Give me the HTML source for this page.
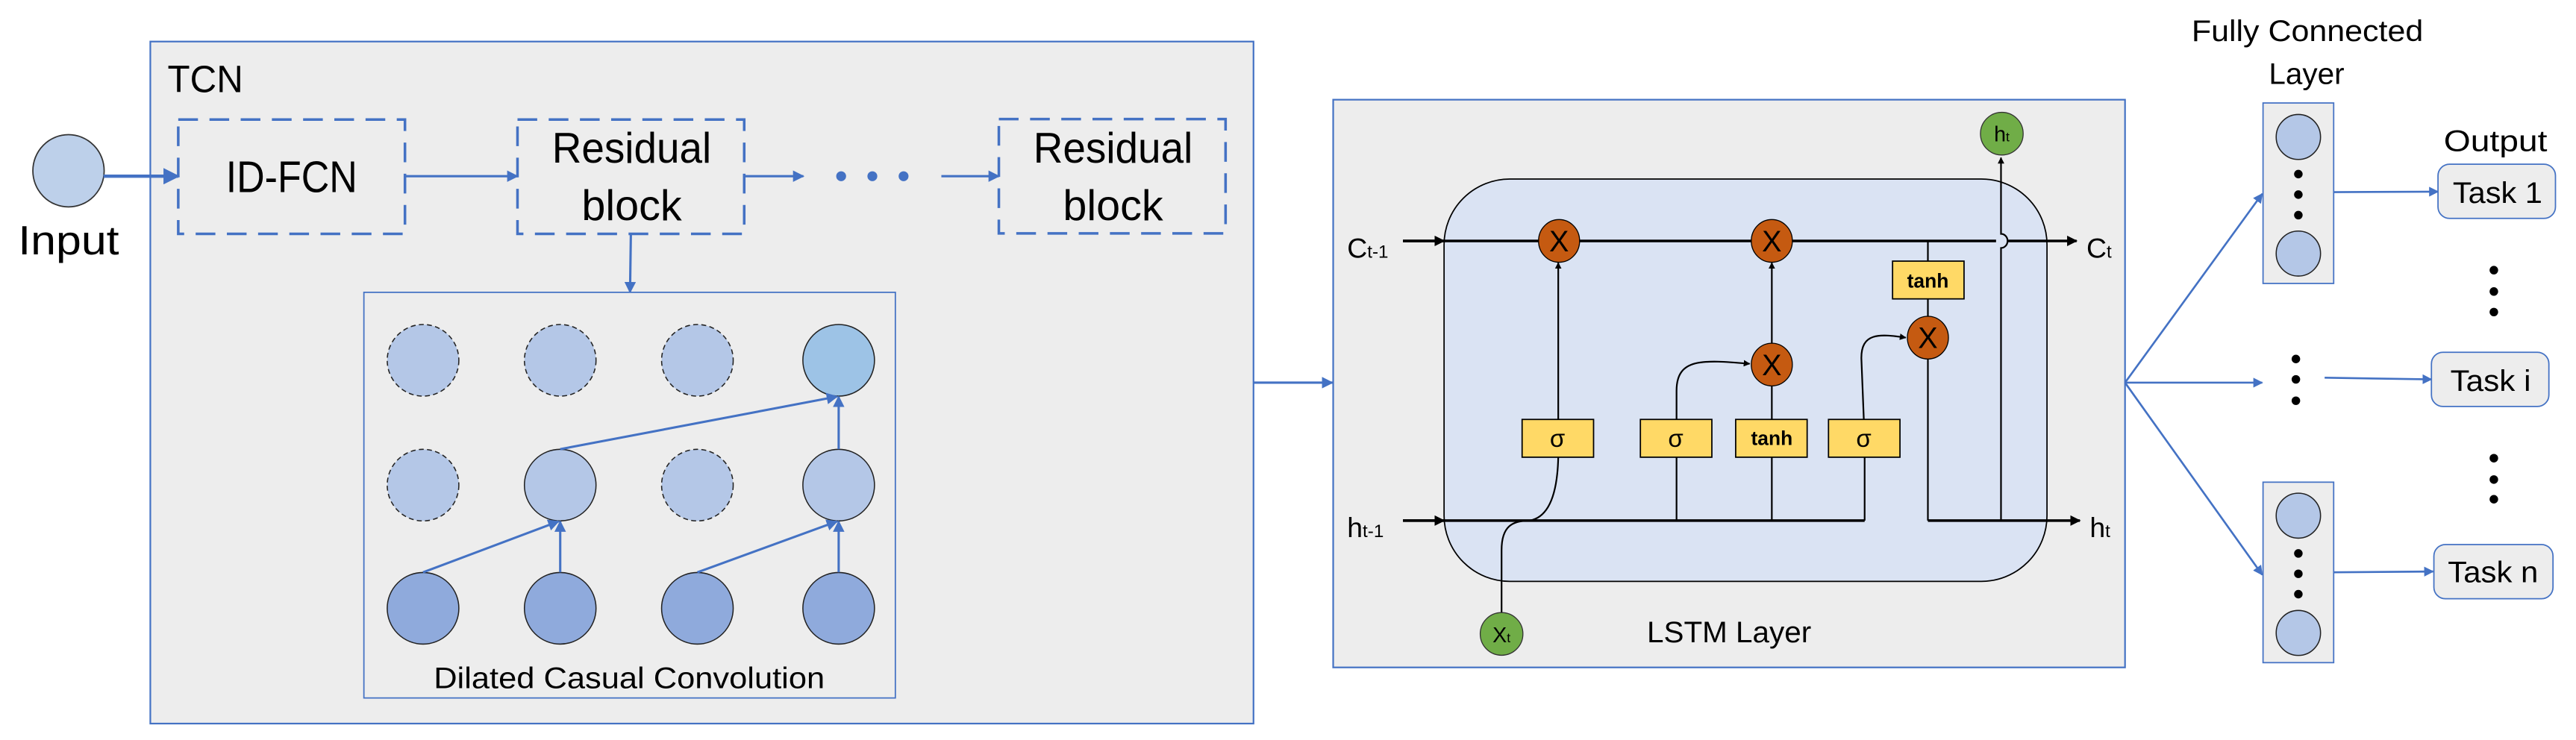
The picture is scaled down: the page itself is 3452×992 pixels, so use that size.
<!DOCTYPE html>
<html><head><meta charset="utf-8"><style>
html,body{margin:0;padding:0;background:#fff;overflow:hidden;}
svg{display:block;}
text{font-family:"Liberation Sans",sans-serif;fill:#000;}
</style></head><body>
<svg width="3452" height="992" viewBox="0 0 1568 450.6" preserveAspectRatio="none" xmlns="http://www.w3.org/2000/svg">
<defs>
<marker id="ab" viewBox="0 0 10 10" refX="9" refY="5" markerWidth="5" markerHeight="5" orient="auto"><path d="M0,0L10,5L0,10z" fill="#4472c4"/></marker>
<marker id="ak" viewBox="0 0 10 10" refX="9" refY="5" markerWidth="4" markerHeight="4" orient="auto"><path d="M0,0L10,5L0,10z" fill="#000"/></marker>
</defs>
<!-- TCN -->
<rect x="91.5" y="25.3" width="671.5" height="415.3" fill="#ededed" stroke="#4472c4" stroke-width="1"/>
<text x="102" y="56" font-size="23" textLength="46" lengthAdjust="spacingAndGlyphs">TCN</text>
<ellipse cx="41.7" cy="104" rx="21.7" ry="22" fill="#bdd0ea" stroke="#333" stroke-width="0.8"/>
<text x="11" y="155" font-size="25" textLength="61.5" lengthAdjust="spacingAndGlyphs">Input</text>
<g stroke="#4472c4" stroke-width="1.6" fill="none" stroke-dasharray="12,7">
<rect x="108.5" y="72.8" width="138" height="69.6"/>
<rect x="315" y="72.8" width="138" height="69.6"/>
<rect x="608" y="72.5" width="138" height="69.6"/>
</g>
<g stroke="#4472c4" stroke-width="1.4" fill="none" marker-end="url(#ab)">
<line x1="63" y1="107.3" x2="108.5" y2="107.3" stroke-width="2"/>
<line x1="246.5" y1="107.3" x2="315" y2="107.3"/>
<line x1="453" y1="107.3" x2="489" y2="107.3"/>
<line x1="573" y1="107.3" x2="608" y2="107.3"/>
<line x1="384" y1="142.4" x2="383.5" y2="178"/>
</g>
<g fill="#4472c4"><circle cx="512" cy="107.3" r="3"/><circle cx="531" cy="107.3" r="3"/><circle cx="550" cy="107.3" r="3"/></g>
<text x="137.5" y="117" font-size="27" textLength="80" lengthAdjust="spacingAndGlyphs">ID-FCN</text>
<text x="336" y="99" font-size="26" textLength="97" lengthAdjust="spacingAndGlyphs">Residual</text>
<text x="354" y="134" font-size="26" textLength="61" lengthAdjust="spacingAndGlyphs">block</text>
<text x="629" y="99" font-size="26" textLength="97" lengthAdjust="spacingAndGlyphs">Residual</text>
<text x="647" y="134" font-size="26" textLength="61" lengthAdjust="spacingAndGlyphs">block</text>
<!-- inner box -->
<rect x="221.5" y="178" width="323.5" height="247" fill="#ededed" stroke="#4472c4" stroke-width="0.8"/>
<g stroke="#222" stroke-width="0.7">
<g fill="#b4c7e7" stroke-dasharray="3,2">
<circle cx="257.5" cy="219.4" r="21.8"/><circle cx="341" cy="219.4" r="21.8"/><circle cx="424.5" cy="219.4" r="21.8"/>
<circle cx="257.5" cy="295.4" r="21.8"/><circle cx="424.5" cy="295.4" r="21.8"/>
</g>
<circle cx="510.5" cy="219.4" r="21.8" fill="#9dc3e6"/>
<circle cx="341" cy="295.4" r="21.8" fill="#b4c7e7"/>
<circle cx="510.5" cy="295.4" r="21.8" fill="#b4c7e7"/>
<g fill="#8faadc"><circle cx="257.5" cy="370.4" r="21.8"/><circle cx="341" cy="370.4" r="21.8"/><circle cx="424.5" cy="370.4" r="21.8"/><circle cx="510.5" cy="370.4" r="21.8"/></g>
</g>
<g stroke="#4472c4" stroke-width="1.4" marker-end="url(#ab)">
<line x1="257.5" y1="348.5" x2="340" y2="317.5"/>
<line x1="341" y1="348.5" x2="341" y2="317.5"/>
<line x1="424.5" y1="348.5" x2="509.5" y2="317.5"/>
<line x1="510.5" y1="348.5" x2="510.5" y2="317.5"/>
<line x1="341" y1="273.5" x2="509.5" y2="241.5"/>
<line x1="510.5" y1="273.5" x2="510.5" y2="241.5"/>
</g>
<text x="264" y="419" font-size="18" textLength="238" lengthAdjust="spacingAndGlyphs">Dilated Casual Convolution</text>
<line x1="763" y1="233" x2="811" y2="233" stroke="#4472c4" stroke-width="1.4" marker-end="url(#ab)"/>
<g transform="translate(-79,0)">
<!-- LSTM -->
<rect x="890.5" y="60.7" width="482" height="345.7" fill="#ededed" stroke="#4472c4" stroke-width="1"/>
<rect x="958" y="109" width="367" height="245" rx="40" ry="40" fill="#dae3f3" stroke="#000" stroke-width="0.8"/>
<g stroke="#000" stroke-width="1.6" fill="none">
<line x1="933" y1="146.7" x2="1294" y2="146.7"/>
<line x1="1301" y1="146.7" x2="1343" y2="146.7" marker-end="url(#ak)"/>
<line x1="933" y1="317" x2="1214" y2="317"/>
<line x1="1252.5" y1="317" x2="1345" y2="317" marker-end="url(#ak)"/>
<line x1="933" y1="146.7" x2="958" y2="146.7" marker-end="url(#ak)"/>
<line x1="933" y1="317" x2="958" y2="317" marker-end="url(#ak)"/>
</g>
<g stroke="#000" stroke-width="1" fill="none">
<line x1="1027.5" y1="255.4" x2="1027.5" y2="160" marker-end="url(#ak)"/>
<path d="M993,373 L993,335 C993,320 1000,317 1010,317 C1022,315 1027,300 1027.5,278.4"/>
<line x1="1099.5" y1="317" x2="1099.5" y2="278.4"/>
<path d="M1099.5,255.4 L1099.5,238 C1099.5,218 1115,219 1144,221.5" marker-end="url(#ak)"/>
<line x1="1157.5" y1="317" x2="1157.5" y2="278.4"/>
<line x1="1157.5" y1="255.4" x2="1157.5" y2="235"/>
<line x1="1157.5" y1="209" x2="1157.5" y2="160" marker-end="url(#ak)"/>
<path d="M1214,317 L1214,278.4"/>
<path d="M1213.5,255.4 L1212,218 C1212,203 1222,203 1239,205.6" marker-end="url(#ak)"/>
<line x1="1252.5" y1="146.7" x2="1252.5" y2="159"/>
<line x1="1252.5" y1="182" x2="1252.5" y2="192.6"/>
<line x1="1252.5" y1="218.6" x2="1252.5" y2="317"/>
<path d="M1297,317 L1297,151 a4,4.3 0 0 0 0,-8.6 L1297,96" marker-end="url(#ak)"/>
</g>
<g fill="#c55a11" stroke="#000" stroke-width="0.6">
<ellipse cx="1028" cy="146.7" rx="12.5" ry="13"/><ellipse cx="1157.5" cy="146.7" rx="12.5" ry="13"/>
<ellipse cx="1157.5" cy="222" rx="12.5" ry="13"/><ellipse cx="1252.5" cy="205.6" rx="12.5" ry="13"/>
</g>
<g font-size="18" text-anchor="middle"><text x="1028" y="153">X</text><text x="1157.5" y="153">X</text><text x="1157.5" y="228.5">X</text><text x="1252.5" y="212">X</text></g>
<g fill="#ffd966" stroke="#000" stroke-width="0.8">
<rect x="1005.5" y="255.4" width="43.5" height="23"/><rect x="1077.5" y="255.4" width="43.5" height="23"/>
<rect x="1135.5" y="255.4" width="43.5" height="23"/><rect x="1192" y="255.4" width="43.5" height="23"/>
<rect x="1231" y="159" width="43.5" height="23"/>
</g>
<g font-size="15" text-anchor="middle" font-family="Liberation Serif,serif">
<text x="1027" y="272">σ</text><text x="1099" y="272">σ</text><text x="1213.5" y="272">σ</text></g>
<g font-size="12" font-weight="bold" text-anchor="middle"><text x="1157.5" y="271">tanh</text><text x="1252.5" y="175">tanh</text></g>
<circle cx="993" cy="386" r="13" fill="#70ad47" stroke="#333" stroke-width="0.6"/>
<text x="993" y="391" font-size="13" text-anchor="middle">X<tspan font-size="8">t</tspan></text>
<circle cx="1297.5" cy="81.4" r="13" fill="#70ad47" stroke="#333" stroke-width="0.6"/>
<text x="1297.5" y="86" font-size="13" text-anchor="middle">h<tspan font-size="8">t</tspan></text>
<text x="899" y="157" font-size="17">C<tspan font-size="11">t-1</tspan></text>
<text x="1349" y="157" font-size="17">C<tspan font-size="11">t</tspan></text>
<text x="899" y="327" font-size="17">h<tspan font-size="11">t-1</tspan></text>
<text x="1351" y="327" font-size="17">h<tspan font-size="11">t</tspan></text>
<text x="1081.5" y="391" font-size="18" textLength="100" lengthAdjust="spacingAndGlyphs">LSTM Layer</text>
<!-- FC -->
<text x="1413" y="25" font-size="18" textLength="141" lengthAdjust="spacingAndGlyphs">Fully Connected</text>
<text x="1460" y="51" font-size="18" textLength="46" lengthAdjust="spacingAndGlyphs">Layer</text>
<text x="1566.5" y="92" font-size="18" textLength="63" lengthAdjust="spacingAndGlyphs">Output</text>
<g fill="#ededed" stroke="#4472c4" stroke-width="0.8">
<rect x="1456.5" y="62.7" width="43" height="109.9"/><rect x="1456.5" y="293.6" width="43" height="109.9"/>
</g>
<g fill="#b4c7e7" stroke="#222" stroke-width="0.7">
<ellipse cx="1478" cy="83.4" rx="13.5" ry="13.7"/><ellipse cx="1478" cy="154.4" rx="13.5" ry="13.7"/>
<ellipse cx="1478" cy="314" rx="13.5" ry="13.7"/><ellipse cx="1478" cy="385.4" rx="13.5" ry="13.7"/>
</g>
<g fill="#000">
<circle cx="1478" cy="106" r="2.6"/><circle cx="1478" cy="118.5" r="2.6"/><circle cx="1478" cy="131" r="2.6"/>
<circle cx="1478" cy="337" r="2.6"/><circle cx="1478" cy="349.4" r="2.6"/><circle cx="1478" cy="361.8" r="2.6"/>
<circle cx="1476.5" cy="218.6" r="2.6"/><circle cx="1476.5" cy="231" r="2.6"/><circle cx="1476.5" cy="244" r="2.6"/>
<circle cx="1597" cy="164.5" r="2.6"/><circle cx="1597" cy="177.5" r="2.6"/><circle cx="1597" cy="190" r="2.6"/>
<circle cx="1597" cy="279" r="2.6"/><circle cx="1597" cy="292" r="2.6"/><circle cx="1597" cy="304" r="2.6"/>
</g>
<g stroke="#4472c4" stroke-width="1.2" marker-end="url(#ab)">
<line x1="1372.5" y1="233" x2="1456" y2="118"/>
<line x1="1372.5" y1="233" x2="1456" y2="233"/>
<line x1="1372.5" y1="233" x2="1456" y2="350"/>
<line x1="1499.5" y1="117" x2="1563" y2="116.7"/>
<line x1="1494" y1="230" x2="1559" y2="231"/>
<line x1="1499.5" y1="348.5" x2="1560" y2="348"/>
</g>
<g fill="#ededed" stroke="#4472c4" stroke-width="0.8">
<rect x="1563" y="100" width="71.5" height="33" rx="7"/>
<rect x="1559" y="214.5" width="71.5" height="33" rx="7"/>
<rect x="1560.5" y="331.6" width="72.5" height="33" rx="7"/>
</g>
<g font-size="18">
<text x="1572" y="123.5" textLength="54.5" lengthAdjust="spacingAndGlyphs">Task 1</text>
<text x="1570.5" y="238" textLength="49" lengthAdjust="spacingAndGlyphs">Task i</text>
<text x="1569" y="354.5" textLength="55" lengthAdjust="spacingAndGlyphs">Task n</text>
</g>
</g>
</svg>
</body></html>
